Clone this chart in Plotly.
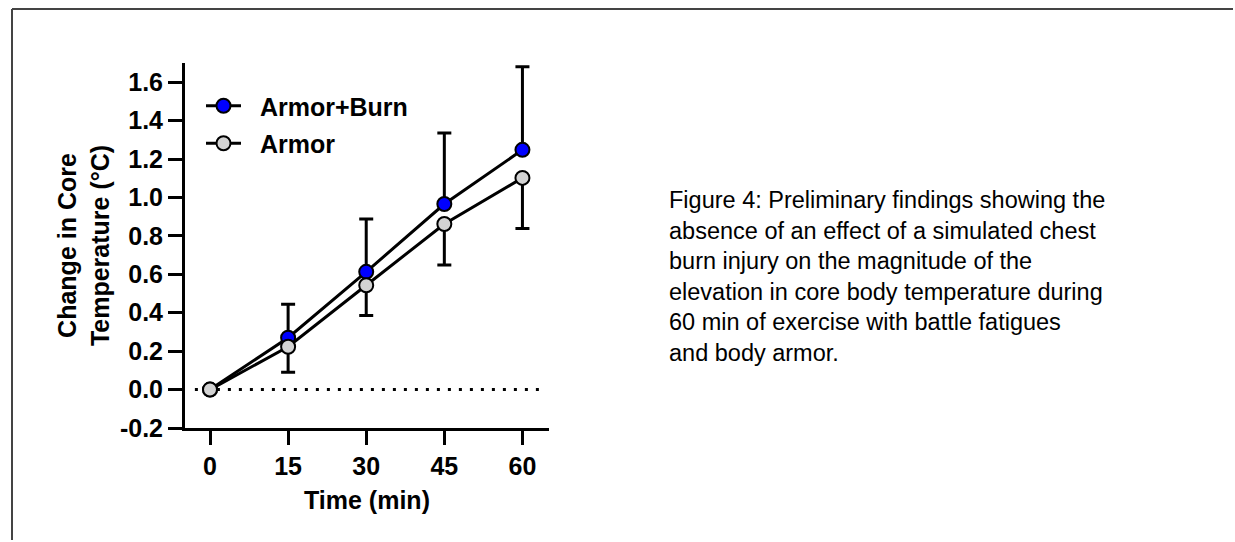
import plotly.graph_objects as go

# ---- data ----
time_min = [0, 15, 30, 45, 60]
armor_burn = [0.0, 0.27, 0.613, 0.966, 1.248]
armor_burn_err = [0.0, 0.174, 0.275, 0.369, 0.432]
armor = [0.0, 0.223, 0.543, 0.862, 1.102]
armor_err = [0.0, 0.133, 0.157, 0.214, 0.263]
series_names = ["Armor+Burn", "Armor"]

y_tick_vals = [-0.2, 0.0, 0.2, 0.4, 0.6, 0.8, 1.0, 1.2, 1.4, 1.6]
y_tick_text = ["-0.2", "0.0", "0.2", "0.4", "0.6", "0.8", "1.0", "1.2", "1.4", "1.6"]
x_tick_vals = [0, 15, 30, 45, 60]
x_tick_text = ["0", "15", "30", "45", "60"]
baseline = 0.0

caption = ("Figure 4: Preliminary findings showing the<br>"
           "absence of an effect of a simulated chest<br>"
           "burn injury on the magnitude of the<br>"
           "elevation in core body temperature during<br>"
           "60 min of exercise with battle fatigues<br>"
           "and body armor.")

FONT = "Liberation Sans, Arial, sans-serif"
W, H = 1235, 542
L, R, T, B = 185, 686, 63, 114
PAD = "\u00a0\u00a0"

fig = go.Figure()

fig.add_trace(go.Scatter(
    x=time_min, y=armor_burn, name=PAD + series_names[0], mode="lines+markers",
    legendgroup="ab",
    line=dict(color="black", width=3),
    marker=dict(color="#0000ff", size=14, line=dict(color="black", width=2)),
    error_y=dict(type="data", symmetric=False, array=armor_burn_err,
                 arrayminus=[0] * len(armor_burn_err),
                 color="black", thickness=3, width=7),
))
fig.add_trace(go.Scatter(
    x=time_min, y=armor, name=PAD + series_names[1], mode="lines+markers",
    legendgroup="a",
    line=dict(color="black", width=3),
    marker=dict(color="#d3d3d3", size=14, line=dict(color="black", width=2)),
    error_y=dict(type="data", symmetric=False, array=[0] * len(armor_err),
                 arrayminus=armor_err,
                 color="black", thickness=3, width=7),
))

fig.add_shape(type="line", xref="x", yref="y", x0=-2.9, x1=63.4,
              y0=baseline, y1=baseline,
              line=dict(color="black", width=3, dash="3px,8px"), layer="below")

def px_x(p):
    return (p - L) / (W - L - R)

def px_y(p):
    return (H - B - p) / (H - T - B)

# page border (top and left edges visible), kept inside the figure
border = dict(color="#444444", width=2)
fig.add_shape(type="line", xref="paper", yref="paper",
              x0=px_x(12), x1=px_x(W - 2), y0=px_y(9), y1=px_y(9), line=border)
fig.add_shape(type="line", xref="paper", yref="paper",
              x0=px_x(12), x1=px_x(12), y0=px_y(9), y1=px_y(H - 2), line=border)

fig.add_annotation(text=caption, xref="paper", yref="paper",
                   x=px_x(667), y=px_y(276.5), xanchor="left", yanchor="middle",
                   align="left", showarrow=False,
                   font=dict(family=FONT, size=23.5, color="black"))

axis_common = dict(showline=True, linecolor="black", linewidth=3,
                   ticks="outside", ticklen=14, tickwidth=3, tickcolor="black",
                   showgrid=False, zeroline=False,
                   tickfont=dict(family=FONT, size=25, color="black", weight="bold"))

fig.update_layout(
    width=W, height=H,
    margin=dict(l=L, r=R, t=T, b=B, autoexpand=False),
    paper_bgcolor="white", plot_bgcolor="white",
    showlegend=True,
    legend=dict(x=px_x(201), y=px_y(83), xanchor="left", yanchor="top",
                bgcolor="rgba(0,0,0,0)", tracegroupgap=2, traceorder="grouped",
                itemwidth=35,
                font=dict(family=FONT, size=25, color="black", weight="bold")),
    xaxis=dict(range=[-4.8, 65.1], tickvals=x_tick_vals, ticktext=x_tick_text,
               title=dict(text="Time (min)", standoff=13,
                          font=dict(family=FONT, size=25, color="black", weight="bold")),
               **axis_common),
    yaxis=dict(range=[-0.2, 1.7], tickvals=y_tick_vals, ticktext=y_tick_text,
               title=dict(text="Change in Core<br>Temperature (°C)", standoff=4,
                          font=dict(family=FONT, size=25, color="black", weight="bold")),
               **axis_common),
)

fig.write_html("out.html")
